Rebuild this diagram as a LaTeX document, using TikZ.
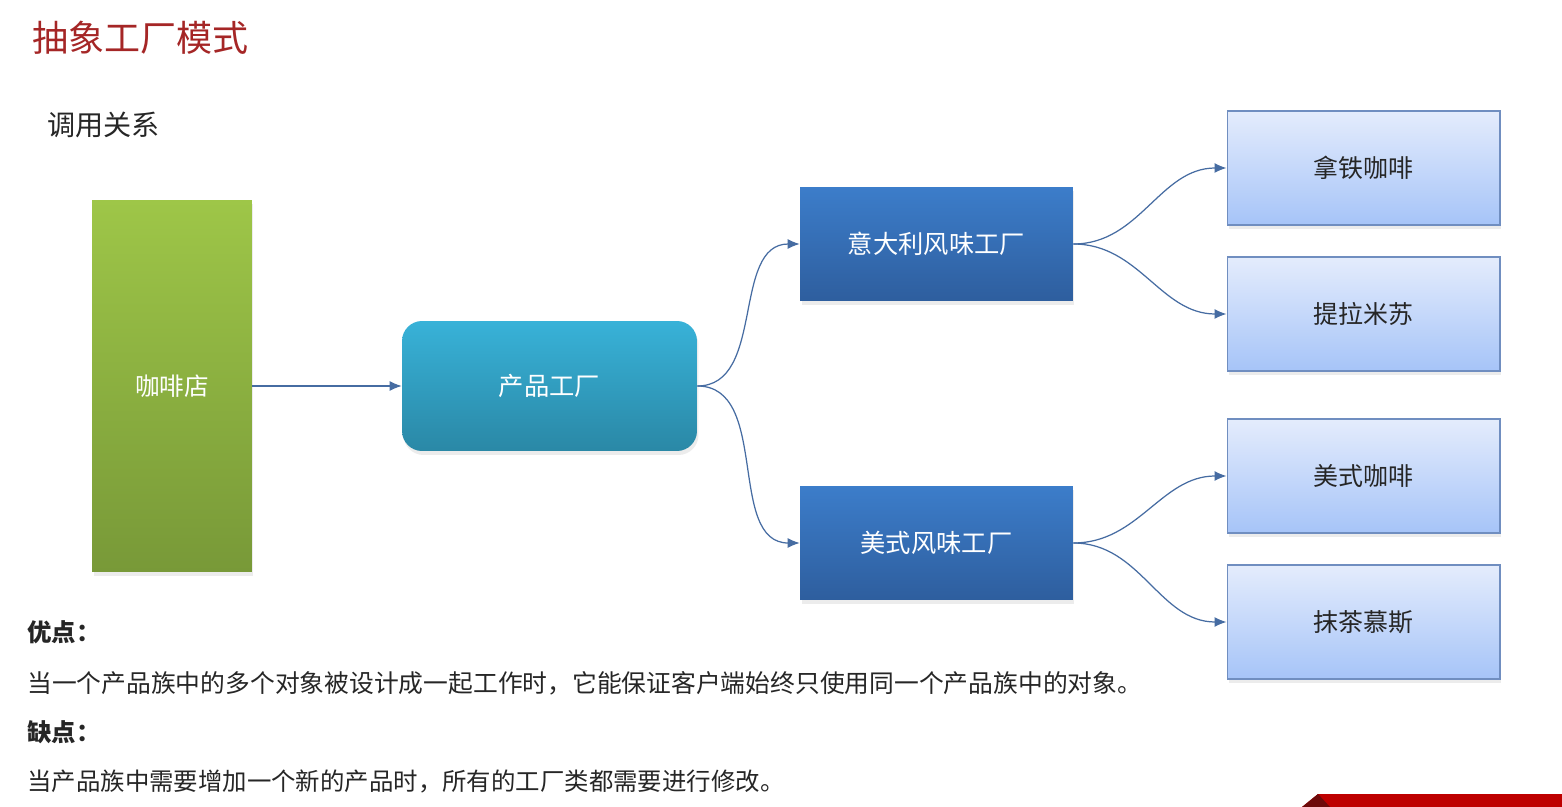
\documentclass[tikz,border=0pt]{standalone}
\usepackage{fontspec}
\setmainfont{Noto Sans CJK SC}
\usepackage{tikz}
\usetikzlibrary{arrows.meta,shadows}
\definecolor{titlered}{RGB}{165,38,38}
\definecolor{shoptop}{RGB}{158,198,72}
\definecolor{shopbot}{RGB}{120,153,56}
\definecolor{facttop}{RGB}{56,178,216}
\definecolor{factbot}{RGB}{42,136,166}
\definecolor{flavtop}{RGB}{60,125,202}
\definecolor{flavbot}{RGB}{46,94,158}
\definecolor{desstop}{RGB}{228,236,252}
\definecolor{dessbot}{RGB}{166,196,248}
\definecolor{dessline}{RGB}{112,142,192}
\definecolor{linkblue}{RGB}{70,108,162}
\definecolor{bannerred}{RGB}{190,0,0}
\definecolor{bannerdark}{RGB}{110,10,10}
\tikzset{
  linkarrow/.style={-{Latex[length=2.4mm,width=2mm]}, line width=0.7pt, linkblue},
  boxshadow/.style={drop shadow={opacity=0.15, shadow xshift=0.3mm, shadow yshift=-0.8mm}},
  shopnode/.style={boxshadow, top color=shoptop, bottom color=shopbot, draw=none, minimum width=3.2cm, minimum height=7.44cm, align=center, text=white, font=\fontsize{14}{17}\selectfont},
  factorybox/.style={boxshadow, rounded corners=0.4cm, top color=facttop, bottom color=factbot, draw=none, minimum width=5.9cm, minimum height=2.6cm, align=center, text=white, font=\fontsize{14.4}{17}\selectfont},
  flavorbox/.style={boxshadow, top color=flavtop, bottom color=flavbot, draw=none, minimum width=5.46cm, minimum height=2.28cm, align=center, text=white, font=\fontsize{14.4}{17}\selectfont},
  dessertbox/.style={boxshadow, top color=desstop, bottom color=dessbot, draw=dessline, line width=0.6pt, minimum width=5.46cm, minimum height=2.28cm, align=center, text=black!85, font=\fontsize{14.2}{17}\selectfont},
  plaintext/.style={anchor=west, inner sep=0pt, text=black!85, font=\fontsize{13.9}{17}\selectfont}
}

\begin{document}
\begin{tikzpicture}[x=0.02cm, y=-0.02cm, >=Latex]
  \useasboundingbox[fill=white] (0,0) rectangle (1562,807);

  % headings
  \node[plaintext, text=titlered, font=\fontsize{20.5}{24}\selectfont] (title) at (32,38) {抽象工厂模式};
  \node[plaintext, font=\fontsize{16}{19}\selectfont] (callrel) at (47,125) {调用关系};

  % boxes
  \node[shopnode] (shop) at (172,386) {咖啡店};
  \node[factorybox] (factory) at (549.5,386) {产品工厂};
  \node[flavorbox] (italy) at (936.5,244) {意大利风味工厂};
  \node[flavorbox] (usa) at (936.5,543) {美式风味工厂};
  \node[dessertbox] (latte) at (1363.5,168) {拿铁咖啡};
  \node[dessertbox] (tiramisu) at (1363.5,314) {提拉米苏};
  \node[dessertbox] (americano) at (1363.5,476) {美式咖啡};
  \node[dessertbox] (mousse) at (1363.5,622) {抹茶慕斯};

  % connectors
  \draw[linkarrow] (shop) -- (factory);
  \draw[linkarrow] (factory.east) to[out=0, in=180] (italy.west);
  \draw[linkarrow] (factory.east) to[out=0, in=180] (usa.west);
  \draw[linkarrow] (italy.east) to[out=0, in=180] (latte.west);
  \draw[linkarrow] (italy.east) to[out=0, in=180] (tiramisu.west);
  \draw[linkarrow] (usa.east) to[out=0, in=180] (americano.west);
  \draw[linkarrow] (usa.east) to[out=0, in=180] (mousse.west);

  % pros and cons
  \node[plaintext, font=\fontsize{13.9}{17}\bfseries\selectfont] (pros) at (27,632) {优点：};
  \node[plaintext, font=\fontsize{14.1}{17}\selectfont] (prostext) at (27,683) {当一个产品族中的多个对象被设计成一起工作时，它能保证客户端始终只使用同一个产品族中的对象。};
  \node[plaintext, font=\fontsize{13.9}{17}\bfseries\selectfont] (cons) at (27,732) {缺点：};
  \node[plaintext] (constext) at (27,781) {当产品族中需要增加一个新的产品时，所有的工厂类都需要进行修改。};

  % footer banner
  \fill[bannerred] (1318,794) -- (1562,794) -- (1562,807) -- (1302,807) -- cycle;
  \fill[bannerdark] (1318,794) -- (1302,807) -- (1330,807) -- cycle;
\end{tikzpicture}
\end{document}
